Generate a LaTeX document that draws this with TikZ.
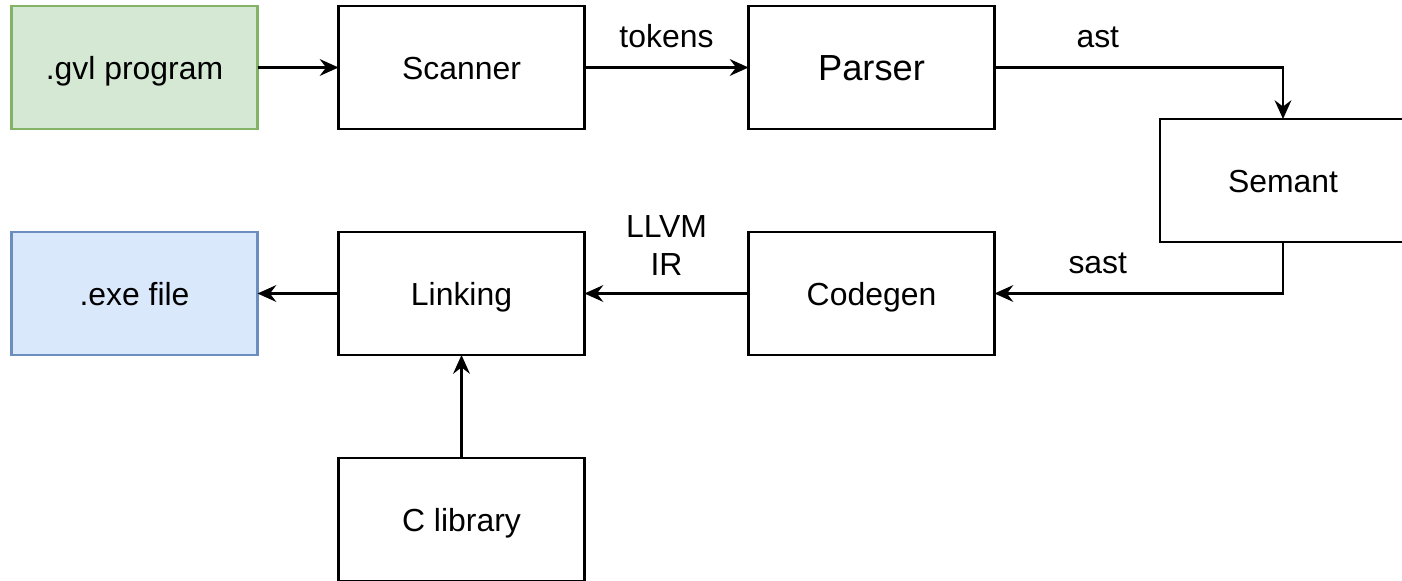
\documentclass[tikz,border=0pt]{standalone}
\usepackage{fontspec}
\setmainfont{Liberation Sans}
\usepackage{tikz}
\usetikzlibrary{positioning, arrows.meta}
\definecolor{infill}{HTML}{D5E8D4}
\definecolor{inline}{HTML}{82B366}
\definecolor{outfill}{HTML}{DAE8FC}
\definecolor{outline}{HTML}{6C8EBF}
\tikzset{
	every node/.append style={
		font={\fontsize{22.7}{27}\selectfont},
	},
	stage/.append style={
		draw,
		line width=1.5pt,
		align = center,
		minimum width=6.15cm,
		minimum height=3.075cm,
		text height=16.4pt,
		text depth=0pt,
		inner sep=0mm,
		outer sep=0mm,
	},
	infile/.append style={
		stage,
		fill=infill,
		draw=inline,
	},
	outfile/.append style={
		stage,
		fill=outfill,
		draw=outline,
	},
	flow/.append style={
		line width=1.5pt,
		-{Stealth[length=4.7mm, width=4.2mm, inset=1.6mm]},
	},
	lbl/.append style={
		above = 4.6mm,
		inner sep=0mm,
		align = center,
	}
}

\begin{document}
\begin{tikzpicture}[]
\useasboundingbox (0,0) rectangle (35.05,-14.525);

\node(gvl)[infile] at (3.3625,-1.6875) {.gvl program};
\node(scan)[stage, right = 2.025cm of gvl] {Scanner};
\node(pars)[stage, right = 4.1cm of scan, font={\fontsize{25.8}{30}\selectfont}, text height=18.6pt] {Parser};
\node(sem)[stage] at (32.075,-4.5125) {Semant};

\node(exe)[outfile, below = 2.575cm of gvl] {.exe file};
\node(link)[stage, below = 2.575cm of scan] {Linking};
\node(cgen)[stage, below = 2.575cm of pars] {Codegen};
\node(clib)[stage, below = 2.575cm of link] {C library};

\draw[flow] (gvl) -- (scan);
\draw[flow] (scan) -- node[lbl]{tokens} (pars);
\draw[flow] (pars) -| node[lbl, pos=0.179]{ast} (sem);
\draw[flow] (sem) |- node[lbl, pos=0.821]{sast} (cgen);
\draw[flow] (cgen) -- node[lbl, above = 4.2mm]{LLVM\\IR} (link);
\draw[flow] (link) -- (exe);
\draw[flow] (clib) -- (link);

\end{tikzpicture}
\end{document}
